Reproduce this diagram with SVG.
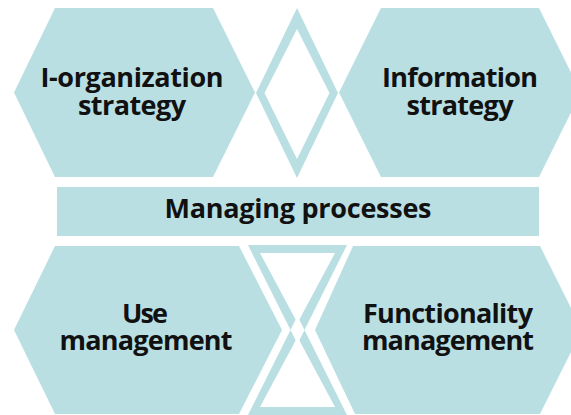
<svg xmlns="http://www.w3.org/2000/svg" width="571" height="415" viewBox="0 0 571 415">
<style>
.s{fill:#b9dfe3;}
.w{fill:#ffffff;}
.t{font-family:"Open Sans","Noto Sans","DejaVu Sans",sans-serif;font-weight:700;font-size:27px;fill:#111;text-anchor:middle;}
</style>
<rect width="571" height="415" fill="#ffffff"/>
<g id="connectors">
<path id="diamond" class="s" fill-rule="evenodd" d="M297,8 L338,93 L297,178 L256,93 Z M297,29 L329.5,93 L297,159 L264.5,93 Z"/>
<path id="hourglass" class="s" d="M248,245 L347,245 L297.5,344 Z M248,415 L347,415 L297.5,316 Z"/>
<path class="w" d="M260,253 L335,253 L297.5,323 Z M260,407 L335,407 L297.5,337 Z"/>
</g>
<g id="node-iorg">
<polygon class="s" points="55,8 213,8 255,92.5 213,177 55,177 14,92.5"/>
<text class="t" x="132" y="87" textLength="183">I-organization</text>
<text class="t" x="132" y="115" textLength="108">strategy</text>
</g>
<g id="node-info">
<polygon class="s" points="381,8 539,8 581,92.5 539,177 381,177 339,92.5"/>
<text class="t" x="460" y="87" textLength="156">Information</text>
<text class="t" x="460" y="115" textLength="107">strategy</text>
</g>
<g id="node-managing">
<rect class="s" x="57" y="187" width="482" height="49"/>
<text class="t" x="298" y="218" textLength="267">Managing processes</text>
</g>
<g id="node-use">
<polygon class="s" points="55,246 239,246 282,330 239,414 55,414 14,330"/>
<text class="t" x="145" y="323" textLength="46">Use</text>
<text class="t" x="146" y="350" textLength="173">management</text>
</g>
<g id="node-func">
<polygon class="s" points="353,246 540,246 582,330 540,414 355,414 315,330"/>
<text class="t" x="448" y="323" textLength="170">Functionality</text>
<text class="t" x="448" y="350" textLength="172">management</text>
</g>
</svg>
